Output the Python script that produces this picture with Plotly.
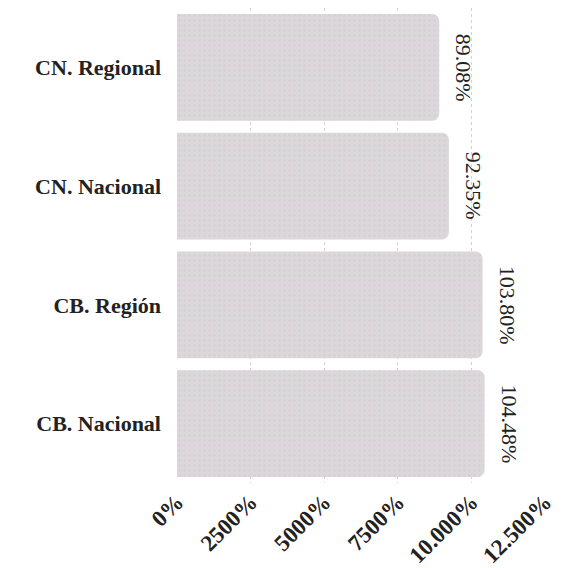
import plotly.graph_objects as go

categories = ["CB. Nacional", "CB. Región", "CN. Nacional", "CN. Regional"]
values = [10448, 10380, 9235, 8908]
value_labels = ["104.48%", "103.80%", "92.35%", "89.08%"]
tick_values = [0, 2500, 5000, 7500, 10000, 12500]
tick_labels = ["0%", "2500%", "5000%", "7500%", "10.000%", "12.500%"]

serif = "Liberation Serif, Times New Roman, serif"

fig = go.Figure()
fig.add_trace(go.Bar(
    y=categories, x=values, orientation="h",
    marker=dict(
        color="#d9d9d9",
        cornerradius=7,
        line=dict(width=0),
        pattern=dict(shape=".", fgcolor="#e6b8e0", bgcolor="#d9d9d9", size=5, solidity=0.2),
    ),
    width=0.9,
    hoverinfo="skip",
))

for c, v, t in zip(categories, values, value_labels):
    fig.add_annotation(
        x=v, y=c, text=t, showarrow=False, textangle=90,
        xanchor="left", yanchor="middle", xshift=10,
        font=dict(family=serif, size=22, color="#222"),
    )

fig.update_layout(
    width=554, height=560,
    margin=dict(l=169, r=17, t=0, b=85),
    paper_bgcolor="white", plot_bgcolor="white",
    showlegend=False,
    bargap=0.1,
)
fig.update_xaxes(
    range=[0, 12500], tickvals=tick_values, ticktext=tick_labels,
    tickangle=-45, tickfont=dict(family=serif, size=23, color="#222", weight="bold"),
    showgrid=True, gridcolor="#d2d2d2", griddash="dot", gridwidth=1,
    zeroline=False, showline=False, ticks="",
    automargin=False,
)
fig.update_yaxes(
    tickfont=dict(family=serif, size=22, color="#222", weight="bold"),
    showgrid=False, zeroline=False, showline=False, ticks="",
    ticklabelstandoff=15, automargin=False,
)

fig.write_html("out.html")
